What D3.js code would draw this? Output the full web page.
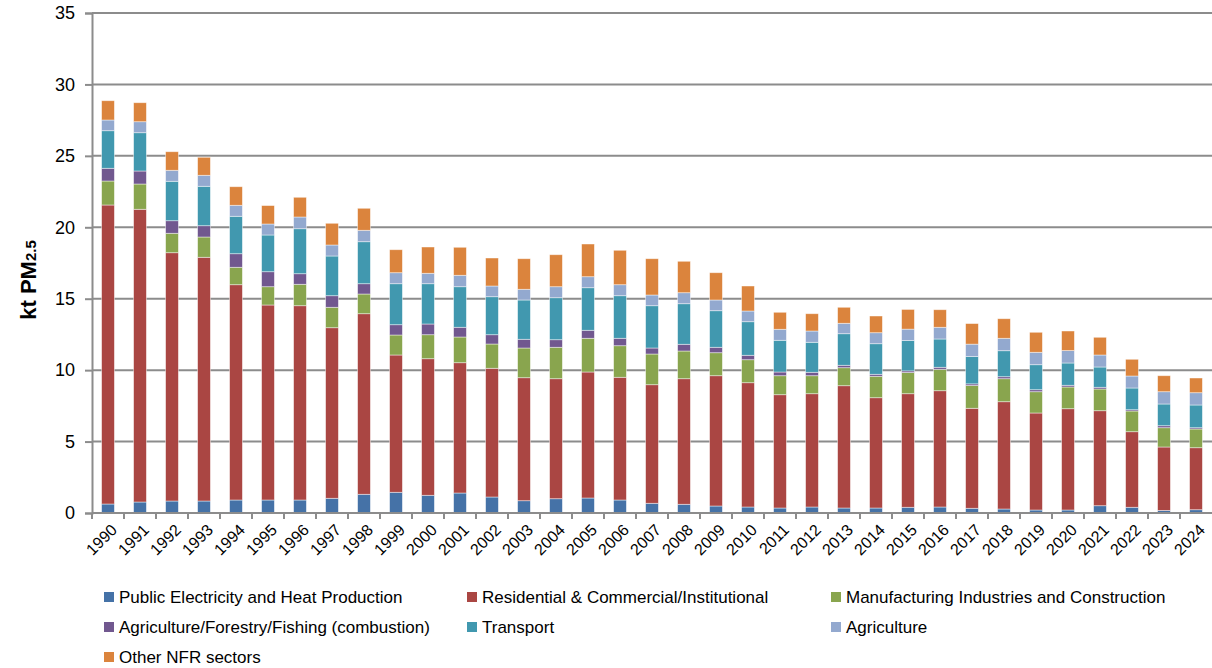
<!DOCTYPE html>
<html>
<style>
    body { margin: 0; background: #fff; }
    text { font-family: "Liberation Sans", Arial, sans-serif; }
</style>
<script src="https://d3js.org/d3.v7.min.js"></script>
<body>
<svg width="1212" height="668"></svg>
<script>
    const years = d3.range(1990, 2025).map(String);
    const seriesNames = ["Public Electricity and Heat Production", "Residential & Commercial/Institutional",
        "Manufacturing Industries and Construction", "Agriculture/Forestry/Fishing (combustion)",
        "Transport", "Agriculture", "Other NFR sectors"];
    const colors = ["#4572A7", "#AA4643", "#89A54E", "#71588F", "#4198AF", "#93A9CF", "#DB843D"];

    const publicElec = [0.63, 0.77, 0.84, 0.84, 0.91, 0.91, 0.91, 1.03, 1.31, 1.45, 1.24, 1.40, 1.12, 0.86, 1.00, 1.05, 0.91, 0.68, 0.61, 0.49, 0.42, 0.35, 0.42, 0.35, 0.35, 0.40, 0.42, 0.33, 0.28, 0.21, 0.21, 0.51, 0.40, 0.18, 0.23];
    const residential = [20.93, 20.49, 17.38, 17.06, 15.07, 13.65, 13.60, 11.94, 12.64, 9.61, 9.56, 9.12, 9.01, 8.61, 8.40, 8.82, 8.59, 8.30, 8.79, 9.12, 8.70, 7.93, 7.93, 8.56, 7.72, 7.95, 8.14, 7.00, 7.51, 6.79, 7.09, 6.65, 5.29, 4.44, 4.34];
    const manufacturing = [1.68, 1.77, 1.36, 1.42, 1.22, 1.28, 1.50, 1.43, 1.38, 1.40, 1.68, 1.80, 1.70, 2.08, 2.20, 2.36, 2.21, 2.15, 1.94, 1.61, 1.61, 1.33, 1.26, 1.26, 1.50, 1.48, 1.50, 1.59, 1.61, 1.49, 1.52, 1.52, 1.45, 1.35, 1.31];
    const agriCombustion = [0.89, 0.91, 0.88, 0.79, 0.95, 1.05, 0.74, 0.81, 0.72, 0.72, 0.75, 0.68, 0.65, 0.61, 0.53, 0.56, 0.52, 0.42, 0.47, 0.38, 0.31, 0.26, 0.24, 0.17, 0.14, 0.12, 0.14, 0.12, 0.14, 0.14, 0.12, 0.12, 0.09, 0.14, 0.09];
    const transport = [2.63, 2.68, 2.76, 2.76, 2.62, 2.57, 3.15, 2.78, 2.94, 2.87, 2.82, 2.84, 2.66, 2.75, 2.94, 2.98, 2.98, 2.96, 2.84, 2.56, 2.35, 2.22, 2.10, 2.21, 2.14, 2.12, 1.98, 1.91, 1.82, 1.75, 1.56, 1.42, 1.52, 1.52, 1.59];
    const agriculture = [0.75, 0.77, 0.77, 0.77, 0.77, 0.77, 0.82, 0.77, 0.80, 0.77, 0.73, 0.80, 0.75, 0.75, 0.77, 0.77, 0.77, 0.75, 0.77, 0.75, 0.75, 0.77, 0.79, 0.73, 0.77, 0.80, 0.82, 0.87, 0.87, 0.87, 0.87, 0.84, 0.84, 0.86, 0.86];
    const otherNfr = [1.35, 1.33, 1.30, 1.26, 1.30, 1.29, 1.38, 1.52, 1.54, 1.61, 1.84, 1.96, 1.96, 2.14, 2.24, 2.29, 2.41, 2.54, 2.20, 1.91, 1.75, 1.19, 1.21, 1.12, 1.17, 1.38, 1.23, 1.44, 1.37, 1.40, 1.37, 1.24, 1.17, 1.12, 1.03];
    const yTicks = [0, 5, 10, 15, 20, 25, 30, 35];

    const seriesValues = [publicElec, residential, manufacturing, agriCombustion, transport, agriculture, otherNfr];
    const keys = seriesNames;
    const rows = years.map((yr, i) => {
        const r = {year: yr};
        keys.forEach((k, j) => r[k] = seriesValues[j][i]);
        return r;
    });

    const svg = d3.select("svg");
    const plotLeft = 92, plotRight = 1212, plotTop = 13, plotBottom = 513;

    const x = d3.scaleBand().domain(years).range([plotLeft, plotRight]).paddingInner(0.6).paddingOuter(0.3);
    const y = d3.scaleLinear().domain([0, 35]).range([plotBottom, plotTop]);

    // gridlines
    svg.append("g")
        .selectAll("line")
        .data(yTicks.filter(d => d > 0))
        .join("line")
        .attr("x1", plotLeft).attr("x2", plotRight)
        .attr("y1", d => y(d)).attr("y2", d => y(d))
        .attr("stroke", "#8c8c8c").attr("stroke-width", 2);

    // y axis
    const yAxis = svg.append("g")
        .attr("transform", `translate(${plotLeft},0)`)
        .call(d3.axisLeft(y).tickValues(yTicks).tickSize(7).tickPadding(10));
    yAxis.select(".domain").attr("stroke", "#8c8c8c").attr("stroke-width", 2);
    yAxis.selectAll(".tick line").attr("stroke", "#8c8c8c").attr("stroke-width", 2);
    yAxis.selectAll(".tick text").attr("font-size", 18).attr("fill", "#000")
        .style("font-family", "'Liberation Sans', Arial, sans-serif");

    // stacked bars
    const stacked = d3.stack().keys(keys)(rows);
    svg.append("g")
        .selectAll("g")
        .data(stacked)
        .join("g")
        .attr("fill", (d, i) => colors[i])
        .selectAll("rect")
        .data(d => d)
        .join("rect")
        .attr("x", d => x(d.data.year))
        .attr("width", x.bandwidth())
        .attr("y", d => y(d[1]))
        .attr("height", d => Math.max(0, y(d[0]) - y(d[1])))
        .attr("stroke", "rgba(255,255,255,0.55)")
        .attr("stroke-width", 0.8);

    // x axis
    const xb = svg.append("g").attr("transform", `translate(0,${plotBottom})`);
    xb.append("line").attr("x1", plotLeft).attr("x2", plotRight).attr("stroke", "#8c8c8c").attr("stroke-width", 2);
    const step = x.step();
    xb.selectAll(".tk")
        .data(years)
        .join("line")
        .attr("class", "tk")
        .attr("x1", (d, i) => plotLeft + i * step).attr("x2", (d, i) => plotLeft + i * step)
        .attr("y1", 0).attr("y2", 6)
        .attr("stroke", "#8c8c8c").attr("stroke-width", 2);
    xb.selectAll("text")
        .data(years)
        .join("text")
        .attr("transform", d => `translate(${x(d) + x.bandwidth() / 2 + 6},${14}) rotate(-45)`)
        .attr("text-anchor", "end")
        .attr("dy", "0.35em")
        .attr("font-size", 16)
        .text(d => d);

    // y title
    const yt = svg.append("text")
        .attr("transform", "translate(36,280) rotate(-90)")
        .attr("text-anchor", "middle")
        .attr("font-size", 22)
        .attr("font-weight", "bold");
    yt.append("tspan").text("kt PM");
    yt.append("tspan").attr("font-size", 15).text("2.5");

    // legend
    const legCols = [104, 467, 831];
    const legRows = [597, 627, 657];
    const legend = svg.append("g")
        .selectAll("g")
        .data(seriesNames)
        .join("g")
        .attr("transform", (d, i) => `translate(${legCols[i % 3]},${legRows[Math.floor(i / 3)]})`);
    legend.append("rect")
        .attr("x", 0).attr("y", -5).attr("width", 10).attr("height", 10)
        .attr("fill", (d, i) => colors[i]);
    legend.append("text")
        .attr("x", 15).attr("dy", "0.35em")
        .attr("font-size", 17)
        .text(d => d);
</script>
</body>
</html>
